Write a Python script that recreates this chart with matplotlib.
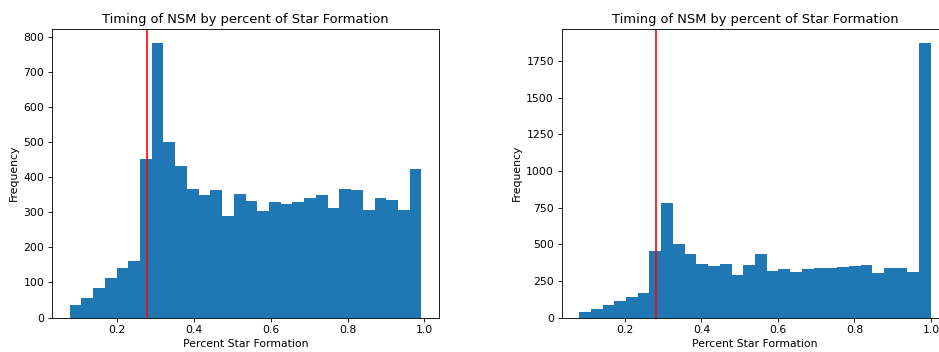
import numpy as np
import matplotlib
matplotlib.use('Agg')
from matplotlib import pyplot as plt

# bin counts (30 bins each)
left_edges = np.linspace(0.078, 0.992, 31)
left_counts = [35, 56, 85, 114, 142, 160, 453, 785, 500, 432,
               368, 351, 365, 291, 354, 334, 303, 329, 323, 329,
               340, 351, 314, 366, 363, 308, 340, 337, 308, 423]

right_edges = np.linspace(0.080, 1.0, 31)
right_counts = [39, 59, 86, 116, 143, 164, 455, 784, 502, 430,
                368, 352, 368, 293, 355, 430, 318, 332, 311, 332,
                339, 339, 345, 352, 359, 305, 339, 339, 311, 1875]

cut = 0.28
title = 'Timing of NSM by percent of Star Formation'

W, H = 939, 352
DPI = 78
fig = plt.figure(figsize=(W / DPI, H / DPI), dpi=DPI)
ax1 = fig.add_axes([52 / W, (H - 317.5) / H, 387 / W, 288.5 / H])
ax2 = fig.add_axes([561.5 / W, (H - 317.5) / H, 387 / W, 288.5 / H])

for ax, edges, counts in [(ax1, left_edges, left_counts), (ax2, right_edges, right_counts)]:
    centers = (edges[:-1] + edges[1:]) / 2
    ax.hist(centers, bins=edges, weights=counts, color='#1f77b4')
    ax.axvline(cut, color='red')
    ax.set_title(title)
    ax.set_xlabel('Percent Star Formation')
    ax.set_ylabel('Frequency')

ax1.set_yticks(range(0, 801, 100))
ax2.set_yticks(range(0, 1751, 250))

fig.savefig('out.png', dpi=DPI)
